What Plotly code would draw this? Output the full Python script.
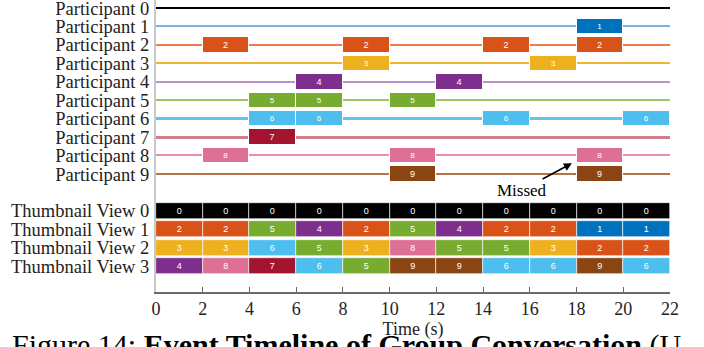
import plotly.graph_objects as go

T_MAX = 22
SEG = 2

participant_labels = [f"Participant {i}" for i in range(10)]
thumb_labels = [f"Thumbnail View {i}" for i in range(4)]

# MATLAB-like palette per participant id
colors = ["#000000", "#0072BD", "#D95319", "#EDB120", "#7E2F8E",
          "#77AC30", "#4DBEEE", "#A2142F", "#DD7094", "#8B4513"]
line_colors = ["#000000", "#79b1df", "#ef7a4a", "#f1b631", "#b992c8",
               "#9cc566", "#63c3ef", "#cf7f8e", "#e88fae", "#b37548"]
line_widths = [0.07, 0.09, 0.09, 0.09, 0.09, 0.09, 0.09, 0.17, 0.09, 0.09]

# speaking events: participant -> list of segment start times (2 s each)
events = {
    1: [18],
    2: [2, 8, 14, 18],
    3: [8, 16],
    4: [6, 12],
    5: [4, 6, 10],
    6: [4, 6, 14, 20],
    7: [4],
    8: [2, 10, 18],
    9: [10, 18],
}

# thumbnail views: participant shown in each 2 s segment
thumb0 = [0, 0, 0, 0, 0, 0, 0, 0, 0, 0, 0]
thumb1 = [2, 2, 5, 4, 2, 5, 4, 2, 2, 1, 1]
thumb2 = [3, 3, 6, 5, 3, 8, 5, 5, 3, 2, 2]
thumb3 = [4, 8, 7, 6, 5, 9, 9, 6, 6, 9, 6]
thumbs = [thumb0, thumb1, thumb2, thumb3]

x_ticks = list(range(0, 23, 2))

P_ROWS = list(range(10))
T_ROWS = [11, 12, 13, 14]
BAR_W = 0.84

fig = go.Figure()

# participant timelines (thin bars as lines)
for p in P_ROWS:
    fig.add_trace(go.Bar(
        orientation="h", y=[p], x=[T_MAX], base=[0], width=line_widths[p],
        marker=dict(color=line_colors[p], line=dict(width=0)),
        hoverinfo="skip", showlegend=False))

# participant events
for p, starts in events.items():
    fig.add_trace(go.Bar(
        orientation="h", y=[p] * len(starts), x=[SEG] * len(starts), base=starts,
        width=BAR_W,
        marker=dict(color=colors[p], line=dict(color="white", width=1)),
        text=[str(p)] * len(starts), textposition="inside",
        insidetextanchor="middle", textangle=0,
        textfont=dict(color="white", size=9, family="Liberation Sans"),
        showlegend=False))

# thumbnail views
for r, seq in zip(T_ROWS, thumbs):
    starts = [i * SEG for i in range(len(seq))]
    fig.add_trace(go.Bar(
        orientation="h", y=[r] * len(seq), x=[SEG] * len(seq), base=starts,
        width=BAR_W + 0.04,
        marker=dict(color=[colors[v] for v in seq], line=dict(color="white", width=0.6)),
        text=[str(v) for v in seq], textposition="inside",
        insidetextanchor="middle", textangle=0,
        textfont=dict(color="white", size=9, family="Liberation Sans"),
        showlegend=False))

fig.add_annotation(
    x=17.8, y=8.42, ax=15.67, ay=9.87, xref="x", yref="y", axref="x", ayref="y",
    text="Missed", showarrow=True, arrowhead=2, arrowsize=1, arrowwidth=1.6,
    arrowcolor="black", font=dict(family="Liberation Serif", size=17, color="black"))

fig.add_annotation(
    xref="paper", yref="paper", x=-0.285, y=-0.115, xanchor="left", yanchor="top",
    showarrow=False, align="left",
    text="Figure 14: <b>Event Timeline of Group Conversation</b> (U",
    font=dict(family="Liberation Serif", size=30, color="black"))

fig.update_layout(
    width=704, height=347,
    margin=dict(l=156, r=34, t=0, b=55, autoexpand=False),
    paper_bgcolor="white", plot_bgcolor="white",
    barmode="overlay", bargap=0,
    font=dict(family="Liberation Serif", color="#222222"),
    xaxis=dict(
        range=[0, T_MAX], tickvals=x_ticks, ticktext=[str(t) for t in x_ticks],
        ticks="inside", ticklen=5, tickwidth=1, tickcolor="#6a6a6a",
        showline=True, linecolor="#6a6a6a", linewidth=1.5,
        showgrid=False, zeroline=False, automargin=False,
        ticklabelstandoff=0,
        tickfont=dict(size=18, family="Liberation Serif", color="#222222"),
        title=dict(text="Time (s)", standoff=2,
                   font=dict(size=18, family="Liberation Serif", color="#222222")),
    ),
    yaxis=dict(
        range=[15.4, -0.44], tickvals=P_ROWS + T_ROWS,
        ticktext=participant_labels + thumb_labels,
        ticks="", showline=True, linecolor="#c8c8c8", linewidth=2,
        showgrid=False, zeroline=False, ticklabelstandoff=1, automargin=False,
        ticklabeloverflow="allow",
        tickfont=dict(size=18.5, family="Liberation Serif", color="#222222"),
    ),
)

fig.write_html("out.html", config={"displayModeBar": False},
               post_script="document.body.style.margin='0px';")
